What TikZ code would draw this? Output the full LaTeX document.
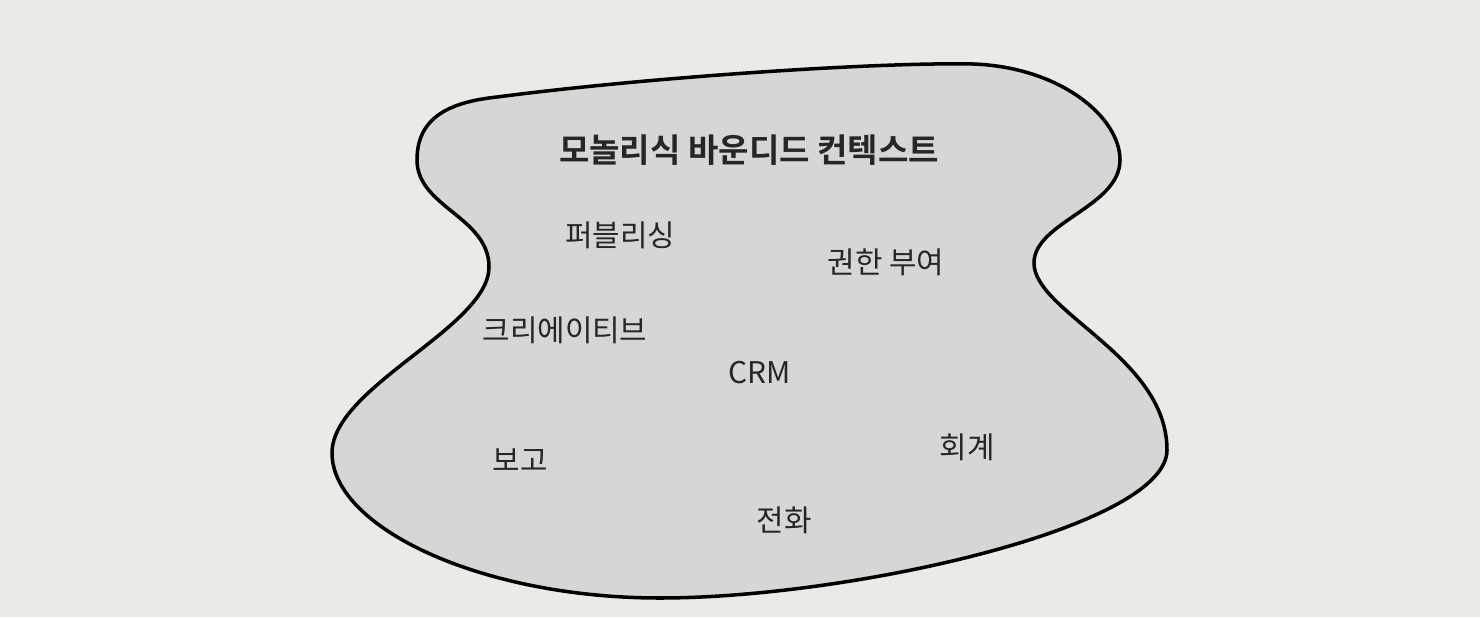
\documentclass[tikz,border=0pt]{standalone}
\usepackage{fontspec}
\setmainfont{Noto Sans CJK KR}
\newfontfamily\krbold{Noto Sans CJK KR Bold}
\usetikzlibrary{positioning}
\definecolor{paper}{RGB}{233,235,231}
\definecolor{blobfill}{RGB}{213,215,212}
\definecolor{ink}{RGB}{38,38,38}

\begin{document}
\begin{tikzpicture}[
    blob/.style={draw=black, line width=1pt, fill=blobfill},
    title_label/.style={font=\krbold\fontsize{9.4}{11}\selectfont, text=ink},
    part_label/.style={font=\fontsize{8.5}{10}\selectfont, text=ink}
]
    % Fundo
    \fill[paper] (0,0) rectangle (14.8,6.17);
    \useasboundingbox (0,0) rectangle (14.8,6.17);
    % Contexto
    \draw[blob] (4.97,5.20)
        .. controls (6.5,5.40) and (8.8,5.55) .. (9.73,5.53)
        .. controls (10.6,5.50) and (11.2,5.0) .. (11.20,4.57)
        .. controls (11.2,4.1) and (10.34,3.95) .. (10.34,3.54)
        .. controls (10.34,3.05) and (11.67,2.6) .. (11.67,1.67)
        .. controls (11.67,0.9) and (8.5,0.19) .. (6.6,0.19)
        .. controls (4.8,0.19) and (3.32,0.9) .. (3.32,1.64)
        .. controls (3.32,2.3) and (4.89,2.9) .. (4.89,3.50)
        .. controls (4.89,4.0) and (4.17,4.1) .. (4.17,4.57)
        .. controls (4.17,5.0) and (4.5,5.15) .. (4.97,5.20) -- cycle;
    % Titulo
    \node[title_label] (titulo) at (7.49,4.67) {모놀리식 바운디드 컨텍스트};
    % Partes
    \node[part_label] (publicacao) at (6.20,3.82) {퍼블리싱};
    \node[part_label] (permissao) at (8.86,3.55) {권한 부여};
    \node[part_label] (criativo) at (5.65,2.87) {크리에이티브};
    \node[part_label] (crm) at (7.60,2.44) {CRM};
    \node[part_label] (relatorio) at (5.20,1.57) {보고};
    \node[part_label] (contab) at (9.67,1.70) {회계};
    \node[part_label] (telefone) at (7.84,0.97) {전화};
\end{tikzpicture}
\end{document}
